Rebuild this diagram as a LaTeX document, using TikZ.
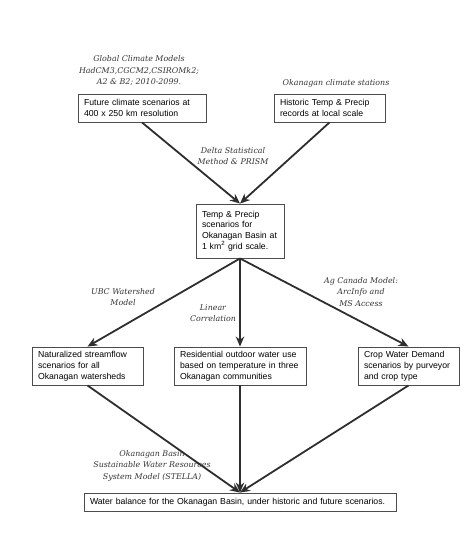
\documentclass[tikz,border=0pt]{standalone}
\usepackage{fontspec}
\setmainfont{Liberation Sans}
\newfontfamily\lblfont{DejaVu Serif}
\usetikzlibrary{arrows.meta}
\begin{document}
\begin{tikzpicture}[x=1pt,y=-1pt,
  box/.style={draw=black!70,line width=0.9pt,fill=white,font=\fontsize{8.7}{10.8}\selectfont,align=left,inner xsep=6pt,inner ysep=3pt,anchor=center},
  lbl/.style={font=\lblfont\itshape\fontsize{7.9}{11.5}\selectfont,align=center,text=black!80},
  arr/.style={draw=black!82,line width=1.8pt,-{Stealth[length=10pt,width=8.5pt]}}]
\useasboundingbox (0,0) rectangle (474,538);
\node[box,minimum width=128pt,minimum height=28pt,text width=116pt] (b1) at (142,108) {Future climate scenarios at\\400 x 250 km resolution};
\node[box,minimum width=111pt,minimum height=28pt,text width=99pt] (b2) at (329.5,108) {Historic Temp \& Precip\\records at local scale};
\node[box,minimum width=88pt,minimum height=54pt,text width=76pt] (b3) at (240,231) {Temp \& Precip\\scenarios for\\Okanagan Basin at\\1 km\textsuperscript{2} grid scale.};
\node[box,minimum width=111pt,minimum height=38pt,text width=99pt] (b4) at (87.5,366) {Naturalized streamflow\\scenarios for all\\Okanagan watersheds};
\node[box,minimum width=132pt,minimum height=38pt,text width=120pt] (b5) at (240,366) {Residential outdoor water use\\based on temperature in three\\Okanagan communities};
\node[box,minimum width=101pt,minimum height=38pt,text width=89pt] (b6) at (408.5,366) {Crop Water Demand\\scenarios by purveyor\\and crop type};
\node[box,minimum width=312pt,minimum height=18pt,text width=300pt] (b7) at (240,502) {Water balance for the Okanagan Basin, under historic and future scenarios.};

\node[lbl] (l1) at (139,71) {Global Climate Models\\HadCM3,CGCM2,CSIROMk2;\\A2 \& B2; 2010-2099.};
\node[lbl] (l2) at (336,83) {Okanagan climate stations};
\node[lbl] (l3) at (233,156) {Delta Statistical\\Method \& PRISM};
\node[lbl] (l4) at (123,297) {UBC Watershed\\Model};
\node[lbl] (l5) at (213,313) {Linear\\Correlation};
\node[lbl] (l6) at (361,292) {Ag Canada Model:\\ArcInfo and\\MS Access};
\node[lbl] (l7) at (152,465.5) {Okanagan Basin\\Sustainable Water Resources\\System Model (STELLA)};

\draw[arr] (b1.south) -- (b3.north);
\draw[arr] (b2.south) -- (b3.north);
\draw[arr] (b3.south) -- (b4.north);
\draw[arr] (b3.south) -- (b5.north);
\draw[arr] (b3.south) -- (b6.north);
\draw[arr] (b4.south) -- (b7.north);
\draw[arr] (b5.south) -- (b7.north);
\draw[arr] (b6.south) -- (b7.north);
\end{tikzpicture}
\end{document}
